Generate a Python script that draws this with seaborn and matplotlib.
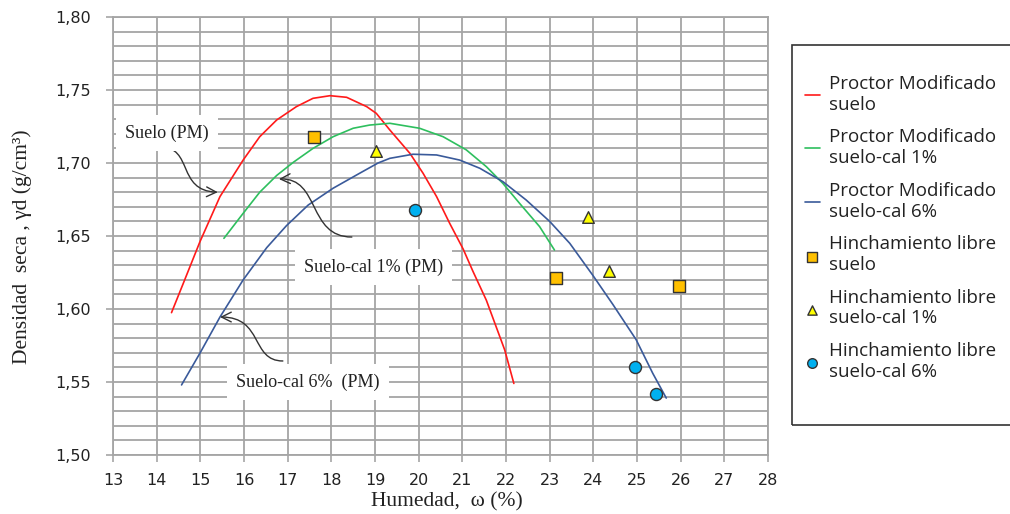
import numpy as np
import pandas as pd
import seaborn as sns
import matplotlib
matplotlib.use("Agg")
import matplotlib.pyplot as plt
from matplotlib.path import Path
from matplotlib.patches import FancyArrowPatch, Rectangle
from matplotlib.ticker import FuncFormatter, MultipleLocator

# ---------------- data ----------------
red_x = [14.34, 14.61, 14.99, 15.45, 15.98, 16.36, 16.75, 17.20, 17.58, 17.97,
         18.35, 18.81, 19.03, 19.34, 19.80, 20.10, 20.41, 20.71, 21.02, 21.24,
         21.55, 21.97, 22.18]
red_y = [1.5975, 1.6176, 1.646, 1.677, 1.702, 1.718, 1.7295, 1.7386, 1.7443, 1.7461,
         1.745, 1.7386, 1.734, 1.7226, 1.7066, 1.693, 1.677, 1.6587, 1.641, 1.626,
         1.606, 1.572, 1.549]

green_x = [15.54, 15.98, 16.36, 16.75, 17.13, 17.58, 18.04, 18.50, 18.88, 19.34,
           20.02, 20.56, 21.09, 21.55, 21.93, 22.31, 22.77, 23.11]
green_y = [1.6484, 1.6655, 1.680, 1.6915, 1.7005, 1.710, 1.718, 1.7238, 1.726, 1.7272,
           1.7238, 1.718, 1.709, 1.6975, 1.686, 1.6724, 1.6564, 1.6404]

blue_x = [14.57, 14.99, 15.45, 15.98, 16.52, 16.97, 17.47, 18.04, 18.65, 19.07,
          19.34, 19.87, 20.41, 20.94, 21.40, 21.93, 22.46, 23.00, 23.46, 23.99,
          24.45, 24.98, 25.36, 25.67]
blue_y = [1.548, 1.5697, 1.5945, 1.6199, 1.6420, 1.6570, 1.6712, 1.6827, 1.693, 1.700,
          1.7032, 1.706, 1.7055, 1.702, 1.6964, 1.6872, 1.6747, 1.660, 1.645, 1.623,
          1.603, 1.579, 1.556, 1.539]

sq_x = [17.60, 23.15, 25.97]
sq_y = [1.718, 1.6215, 1.616]
tri_x = [19.02, 23.88, 24.37]
tri_y = [1.708, 1.663, 1.626]
circ_x = [19.91, 24.95, 25.43]
circ_y = [1.668, 1.560, 1.542]

labels = ["Proctor Modificado\nsuelo",
          "Proctor Modificado\nsuelo-cal 1%",
          "Proctor Modificado\nsuelo-cal 6%",
          "Hinchamiento libre\nsuelo",
          "Hinchamiento libre\nsuelo-cal 1%",
          "Hinchamiento libre\nsuelo-cal 6%"]

x_ticks = list(range(13, 29))
y_ticks = [1.50, 1.55, 1.60, 1.65, 1.70, 1.75, 1.80]

# ---------------- figure ----------------
sns.set_style("white")
plt.rcParams['font.family'] = ['DejaVu Sans']

W, H = 1010, 514
fig = plt.figure(figsize=(W / 100, H / 100), dpi=100)
ax = fig.add_axes([113 / W, 1 - 455 / H, (768 - 113) / W, (455 - 17) / H])

red_c = "#FF1A1A"
green_c = "#2EBF5E"
blue_c = "#3A5A9A"

sns.lineplot(x=red_x, y=red_y, sort=False, color=red_c, lw=1.2, ax=ax,
             label=labels[0], zorder=3)
sns.lineplot(x=green_x, y=green_y, sort=False, color=green_c, lw=1.2, ax=ax,
             label=labels[1], zorder=3)
sns.lineplot(x=blue_x, y=blue_y, sort=False, color=blue_c, lw=1.2, ax=ax,
             label=labels[2], zorder=3)
sns.scatterplot(x=sq_x, y=sq_y, marker="s", s=80, color="#FFC000",
                edgecolor="#333333", linewidth=1.0, ax=ax, label=labels[3], zorder=4)
sns.scatterplot(x=tri_x, y=tri_y, marker="^", s=70, color="#FFFF00",
                edgecolor="#333333", linewidth=1.0, ax=ax, label=labels[4], zorder=4)
sns.scatterplot(x=circ_x, y=circ_y, marker="o", s=75, color="#00B0F0",
                edgecolor="#333333", linewidth=1.0, ax=ax, label=labels[5], zorder=4)

ax.set_xlim(13, 28)
ax.set_ylim(1.50, 1.80)
ax.set_xticks(x_ticks)
ax.set_yticks(y_ticks)
ax.yaxis.set_minor_locator(MultipleLocator(0.01))
ax.yaxis.set_major_formatter(FuncFormatter(lambda v, p: f"{v:.2f}".replace(".", ",")))
grid_c = "#A5A5A5"
ax.grid(True, which="major", axis="x", color=grid_c, lw=1.3)
ax.grid(True, which="both", axis="y", color=grid_c, lw=1.3)
ax.set_axisbelow(True)
for s in ax.spines.values():
    s.set_color(grid_c)
    s.set_linewidth(1.3)
ax.tick_params(axis="both", which="major", direction="out", length=5, width=1.2,
               color=grid_c, labelsize=11.5, labelcolor="#222222")
ax.tick_params(axis="y", which="major", pad=11)
ax.tick_params(axis="x", which="major", pad=8)
ax.tick_params(axis="y", which="minor", length=0)
ax.tick_params(axis="x", bottom=True)
ax.tick_params(axis="y", left=True)

serif = ["Liberation Serif", "DejaVu Serif"]
ax.set_xlabel("Humedad,  ω (%)", fontsize=15.5, family=serif, color="#222222",
              va="center")
ax.set_ylabel("Densidad  seca , γd (g/cm³)", fontsize=15.5, family=serif,
              color="#222222", va="center")
ax.xaxis.set_label_coords((447 - 113) / 655, (455 - 502) / 438)
ax.yaxis.set_label_coords((22 - 113) / 655, (455 - 247) / 438)

# ---------------- annotations ----------------
def s_arrow(p0, c1, c2, p1):
    path = Path([p0, c1, c2, p1], [Path.MOVETO, Path.CURVE4, Path.CURVE4, Path.CURVE4])
    arr = FancyArrowPatch(path=path, arrowstyle="->,head_length=7,head_width=3.5",
                          color="#333333", lw=1.0, zorder=6, transform=ax.transData)
    ax.add_patch(arr)

box = dict(boxstyle="square,pad=0.5", fc="white", ec="none")
ax.text(14.24, 1.7205, "Suelo (PM)", fontsize=13, family=serif, ha="center",
        va="center", bbox=box, zorder=7, clip_on=False, color="#222222")
ax.text(18.97, 1.6288, "Suelo-cal 1% (PM)", fontsize=13, family=serif, ha="center",
        va="center", bbox=box, zorder=7, color="#222222")
ax.text(17.46, 1.5500, "Suelo-cal 6%  (PM)", fontsize=13, family=serif, ha="center",
        va="center", bbox=box, zorder=7, color="#222222")

s_arrow((14.08, 1.711), (14.85, 1.711), (14.45, 1.681), (15.40, 1.680))
s_arrow((18.47, 1.6493), (17.45, 1.6493), (17.75, 1.690), (16.80, 1.689))
s_arrow((16.89, 1.5644), (16.15, 1.5644), (16.45, 1.5945), (15.45, 1.5945))

# ---------------- legend ----------------
handles, labs = ax.get_legend_handles_labels()
ax.get_legend().remove()
fig.patches.append(Rectangle((792 / W, 1 - 425 / H), 230 / W, 380 / H,
                             transform=fig.transFigure, fill=False,
                             ec="#333333", lw=1.2, zorder=0))
fig.legend(handles, labs, loc="upper left", bbox_to_anchor=(788 / W, 1 - 58 / H),
           frameon=False, handlelength=0.8, handletextpad=0.5, labelspacing=0.78,
           prop={"family": ["Open Sans", "DejaVu Sans"], "size": 13.5},
           labelcolor="#222222", markerscale=0.8)

fig.savefig("out.png", dpi=100)
